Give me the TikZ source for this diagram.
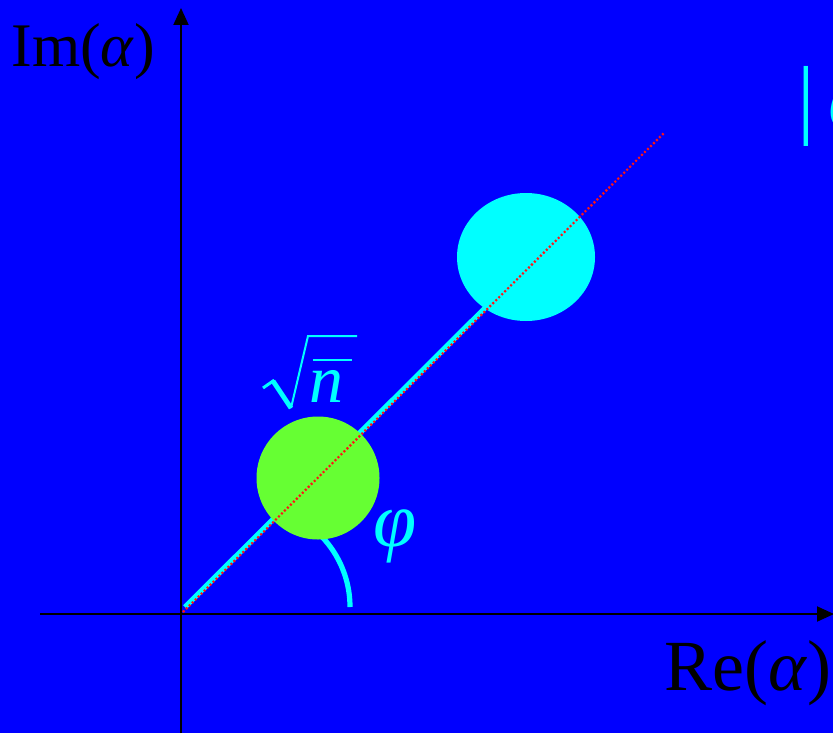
\documentclass[tikz,border=0pt]{standalone}
\usepackage{fontspec}
\setmainfont{Liberation Serif}
\usetikzlibrary{arrows.meta,shapes.geometric}
\definecolor{bgblue}{RGB}{0,0,255}
\definecolor{cyanc}{RGB}{0,255,255}
\definecolor{greenc}{RGB}{102,255,51}
\definecolor{redc}{RGB}{255,20,20}
\tikzset{
  axisline/.style={black, line width=1pt, -{Triangle[length=8.5pt,width=7.5pt]}},
  cyanline/.style={cyanc, line width=2.6pt},
  radical/.style={cyanc, line width=1.5pt, line join=miter},
  reddot/.style={redc, line width=1.1pt, dash pattern=on 1pt off 1.1pt},
  lbl/.style={inner sep=0pt, anchor=base west},
}
\begin{document}
\begin{tikzpicture}[x=0.5pt,y=-0.5pt]
\useasboundingbox (0,0) rectangle (833,733);
\clip (0,0) rectangle (833,733);
\fill[bgblue] (0,0) rectangle (833,733);
% coordinates
\coordinate (vb) at (181,733);
\coordinate (vt) at (181,8);
\coordinate (hl) at (40,614);
\coordinate (hr) at (834,614);
\coordinate (cs) at (185,607);
\coordinate (ce) at (500,293);
\coordinate (rs) at (183,612);
\coordinate (re) at (664,133);
\coordinate (arcstart) at (350,607);
% axes
\draw[axisline] (vb) -- (vt);
\draw[axisline] (hl) -- (hr);
% cyan ray
\draw[cyanline] (cs) -- (ce);
% angle arc
\draw[cyanline] (arcstart) arc[start angle=0, end angle=60, radius=51pt];
% green and cyan blobs
\node[circle, fill=greenc, minimum size=61.5pt, inner sep=0] (g) at (318,478) {};
\node[ellipse, fill=cyanc, minimum width=69pt, minimum height=64pt, inner sep=0] (c) at (526,257) {};
% red dotted line
\draw[reddot] (rs) -- (re);
% labels
\node[lbl, font=\fontsize{31}{33}\selectfont] (im) at (11,67) {Im(\textit{α})};
\node[lbl, font=\fontsize{36}{38}\selectfont] (rel) at (664,690) {Re(\textit{α})};
\node[lbl, font=\fontsize{39}{41}\selectfont, text=cyanc] (phi) at (373,546) {\textit{φ}};
% sqrt of n-bar
\node[lbl, font=\fontsize{34}{36}\selectfont, text=cyanc] (nn) at (309,402) {\textit{n}};
\coordinate (r1) at (263,388);
\coordinate (r2) at (273,381);
\coordinate (r3) at (291,408);
\coordinate (r4) at (308,336);
\coordinate (r5) at (357,336);
\draw[radical] (r1) -- (r2) -- (r3);
\draw[radical, line width=1pt] (r3) -- (r4) -- (r5);
\draw[cyanc, line width=2.4pt] (r2) -- (r3);
\coordinate (b1) at (313,360);
\coordinate (b2) at (352,360);
\draw[cyanc, line width=1.3pt] (b1) -- (b2);
\node[lbl, font=\fontsize{44}{46}\selectfont, text=cyanc] (ket) at (797,127) {|\hspace{6.5pt}\textit{α}};
\end{tikzpicture}
\end{document}
